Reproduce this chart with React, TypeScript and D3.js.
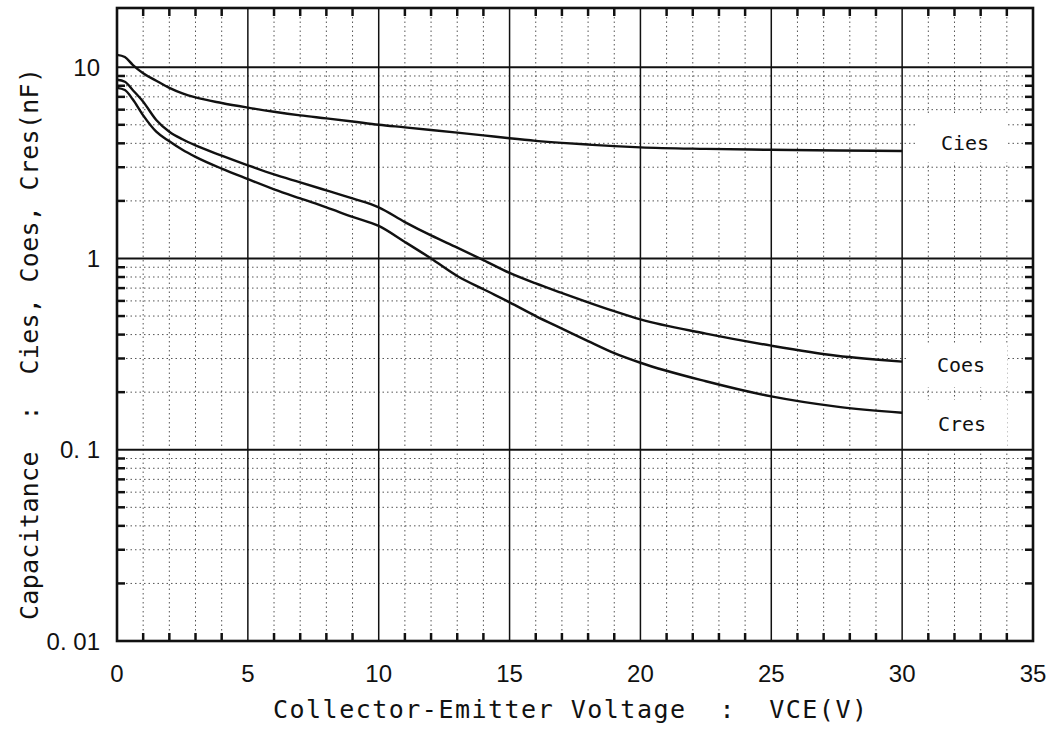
import React from "react";
import * as d3 from "d3";

// Collector-emitter voltage sample points (V)
const vce = [0, 0.3, 0.6, 1, 1.5, 2, 2.5, 3, 4, 5, 6, 7, 8, 9, 10, 11, 12, 13, 14, 15, 16, 17, 18, 19, 20, 22.5, 25, 27.5, 30];

// Capacitances (nF)
const cies = [11.6, 11.3, 10.3, 9.3, 8.5, 7.8, 7.3, 6.95, 6.5, 6.15, 5.85, 5.6, 5.4, 5.2, 5.0, 4.85, 4.7, 4.55, 4.4, 4.25, 4.12, 4.02, 3.94, 3.87, 3.81, 3.74, 3.7, 3.67, 3.65];
const coes = [8.6, 8.4, 7.6, 6.6, 5.3, 4.6, 4.2, 3.9, 3.45, 3.07, 2.75, 2.5, 2.27, 2.06, 1.85, 1.55, 1.32, 1.14, 0.98, 0.84, 0.74, 0.66, 0.59, 0.53, 0.48, 0.405, 0.35, 0.31, 0.289];
const cres = [7.8, 7.6, 6.8, 5.6, 4.6, 4.1, 3.7, 3.4, 2.95, 2.6, 2.3, 2.06, 1.85, 1.65, 1.48, 1.22, 1.0, 0.81, 0.69, 0.59, 0.5, 0.43, 0.37, 0.32, 0.285, 0.228, 0.19, 0.168, 0.156];

const seriesNames = ["Cies", "Coes", "Cres"];

const xTicks = [0, 5, 10, 15, 20, 25, 30, 35];
const yTicks = [0.01, 0.1, 1, 10];
const yTickLabels = ["0. 01", "0. 1", "1", "10"];

const xTitle = "Collector-Emitter Voltage  :  VCE(V)";
const yTitle = "Capacitance  :  Cies, Coes, Cres(nF)";

const FONT = "'Liberation Sans', Arial, sans-serif";
const MONO = "'DejaVu Sans Mono', monospace";

export default function App() {
  const W = 1054;
  const H = 733;
  const left = 117;
  const right = 1033;
  const top = 8;
  const bottom = 641;

  const x = d3.scaleLinear().domain([0, 35]).range([left, right]);
  const y = d3.scaleLog().domain([0.01, 20.4]).range([bottom, top]);

  const minorX = d3.range(1, 35).filter((v) => v % 5 !== 0);
  const minorY: number[] = [];
  [0.01, 0.1, 1].forEach((d) => {
    for (let k = 2; k <= 9; k++) minorY.push(d * k);
  });
  const majorXLines = [5, 10, 15, 20, 25, 30];
  const majorYLines = [0.1, 1, 10];

  const line = d3
    .line<[number, number]>()
    .x((d) => x(d[0]))
    .y((d) => y(d[1]))
    .curve(d3.curveMonotoneX);

  const curves = [cies, coes, cres].map((vals) =>
    line(vce.map((v, i) => [v, vals[i]] as [number, number]))
  );

  // blank boxes behind the curve names
  const labelBoxes = [
    { x0: 918, x1: 1008, y0: 115, y1: 162 },
    { x0: 906, x1: 1007, y0: 343, y1: 387 },
    { x0: 906, x1: 1007, y0: 400, y1: 446 },
  ];
  const labelPos = [
    { cx: 965, cy: 143 },
    { cx: 961, cy: 365 },
    { cx: 962, cy: 424 },
  ];

  const tickLen = 8;

  return (
    <svg
      width={W}
      height={H}
      viewBox={`0 0 ${W} ${H}`}
      style={{ position: "absolute", left: 0, top: 0, background: "#fff" }}
    >
      <rect x={0} y={0} width={W} height={H} fill="#fff" />

      {/* dotted minor grid */}
      <g stroke="#555" strokeWidth={1} strokeDasharray="1.5 3">
        {minorX.map((v) => (
          <line key={"mx" + v} x1={x(v)} x2={x(v)} y1={top} y2={bottom} />
        ))}
        {minorY.map((v) => (
          <line key={"my" + v} x1={left} x2={right} y1={y(v)} y2={y(v)} />
        ))}
      </g>

      {/* blank boxes for curve names */}
      {labelBoxes.map((b, i) => (
        <rect key={"box" + i} x={b.x0} y={b.y0} width={b.x1 - b.x0} height={b.y1 - b.y0} fill="#fff" />
      ))}

      {/* solid major grid */}
      <g stroke="#111">
        {majorXLines.map((v) => (
          <line key={"Mx" + v} x1={x(v)} x2={x(v)} y1={top} y2={bottom} strokeWidth={1.5} />
        ))}
        {majorYLines.map((v) => (
          <line key={"My" + v} x1={left} x2={right} y1={y(v)} y2={y(v)} strokeWidth={2} />
        ))}
      </g>

      {/* capacitance curves */}
      <g fill="none" stroke="#111" strokeWidth={2.4} strokeLinejoin="round">
        {curves.map((d, i) => (
          <path key={"c" + i} d={d || ""} />
        ))}
      </g>

      {/* curve names */}
      {seriesNames.map((n, i) => (
        <text
          key={"n" + n}
          x={labelPos[i].cx}
          y={labelPos[i].cy + 7}
          textAnchor="middle"
          fontFamily={MONO}
          fontSize={20}
          fill="#111"
        >
          {n}
        </text>
      ))}

      {/* frame ticks */}
      <g stroke="#111" strokeWidth={2.5}>
        {minorX.map((v) => (
          <g key={"tx" + v}>
            <line x1={x(v)} x2={x(v)} y1={top} y2={top + tickLen} />
            <line x1={x(v)} x2={x(v)} y1={bottom} y2={bottom - tickLen} />
          </g>
        ))}
        {minorY.map((v) => (
          <g key={"ty" + v}>
            <line x1={left} x2={left + tickLen} y1={y(v)} y2={y(v)} />
            <line x1={right} x2={right - tickLen} y1={y(v)} y2={y(v)} />
          </g>
        ))}
      </g>

      {/* frame */}
      <rect x={left} y={top} width={right - left} height={bottom - top} fill="none" stroke="#111" strokeWidth={2.6} />

      {/* tick labels */}
      <g fontFamily={FONT} fontSize={24} fill="#111">
        {xTicks.map((v) => (
          <text key={"lx" + v} x={x(v)} y={682} textAnchor="middle">
            {v}
          </text>
        ))}
        {yTicks.map((v, i) => (
          <text key={"ly" + v} x={100} y={y(v) + 8.5} textAnchor="end">
            {yTickLabels[i]}
          </text>
        ))}
      </g>

      {/* axis titles */}
      <g fontFamily={MONO} fontSize={25} fill="#111">
        <text x={273} y={718} textLength={594} lengthAdjust="spacing" style={{ whiteSpace: "pre" }}>
          {xTitle}
        </text>
        <g transform="translate(38,0) rotate(-90)">
          <text x={-620} y={0} textLength={552} lengthAdjust="spacing" style={{ whiteSpace: "pre" }}>
            {yTitle}
          </text>
        </g>
      </g>
    </svg>
  );
}
